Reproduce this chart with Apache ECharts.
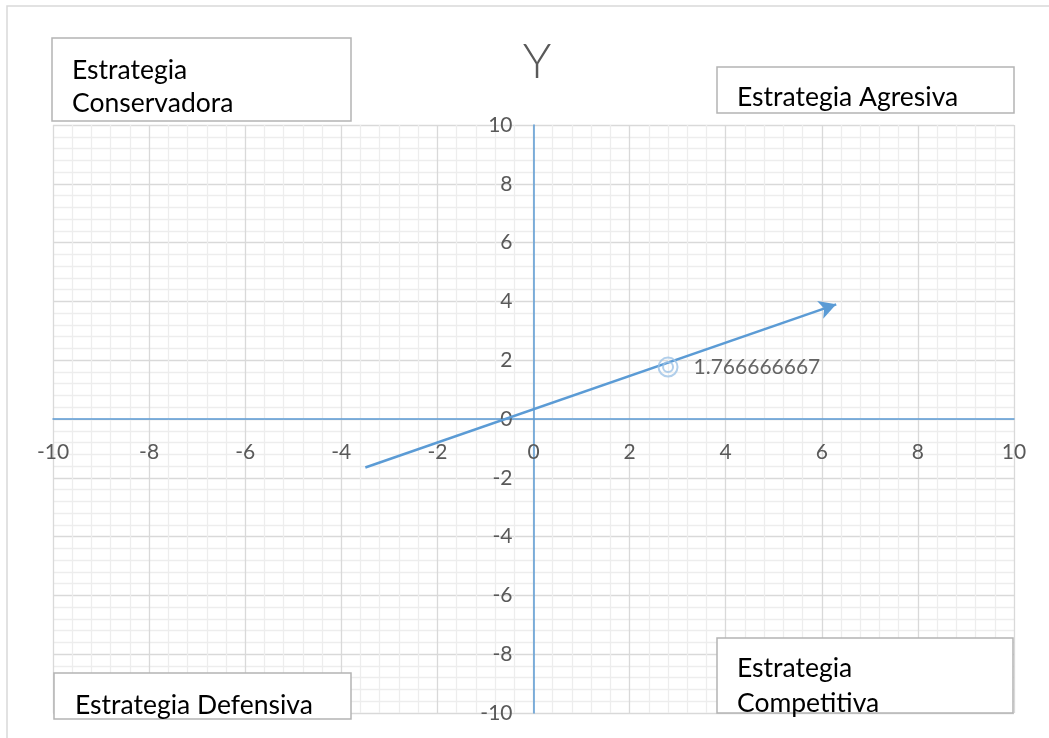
<!DOCTYPE html>
<html>
<head>
<meta charset="utf-8">
<script src="https://cdn.jsdelivr.net/npm/echarts@6/dist/echarts.min.js"></script>
<style>
  html, body { margin: 0; padding: 0; background: #ffffff; }
  #chart { width: 1049px; height: 738px; }
</style>
</head>
<body>
<div id="chart"></div>
<script>
// Strategy vector (start -> arrow tip) and the marked point on it
const vectorX = [-3.5, 6.3];
const vectorY = [-1.65, 3.9];
const pointX = [2.8];
const pointY = [1.766666667];

// Axis range and tick step
const axisMin = -10;
const axisMax = 10;
const axisStep = 2;

const chartTitle = 'Y';
const quadrantConservadora = ['Estrategia', 'Conservadora'];
const quadrantAgresiva = ['Estrategia Agresiva'];
const quadrantCompetitiva = ['Estrategia', 'Competitiva'];
const quadrantDefensiva = ['Estrategia Defensiva'];

const FONT = 'Lato, "Open Sans", sans-serif';
const AXIS_BLUE = '#5b9bd5';

// Plot rectangle
const W = 1049, H = 738;
const G = { left: 53, right: 35, top: 125, bottom: 25 };
const plotW = W - G.left - G.right;
const plotH = H - G.top - G.bottom;

function box(x, y, w, h, lines, tx, ty, lh) {
  const children = [{
    type: 'rect',
    shape: { x: x, y: y, width: w, height: h },
    style: { fill: '#ffffff', stroke: '#b4b4b4', lineWidth: 1.5 },
    z: 100
  }];
  lines.forEach(function (t, i) {
    children.push({
      type: 'text',
      x: tx, y: ty + i * lh,
      style: {
        text: t, fill: '#000000', fontSize: 26.5, fontFamily: FONT,
        textAlign: 'left', textVerticalAlign: 'middle'
      },
      z: 101
    });
  });
  return { type: 'group', children: children, z: 100 };
}

const chart = echarts.init(document.getElementById('chart'));

const axisCommon = {
  type: 'value',
  min: axisMin,
  max: axisMax,
  interval: axisStep,
  axisLine: { show: true, onZero: false, lineStyle: { color: AXIS_BLUE, width: 1.5 } },
  axisTick: { show: false },
  minorTick: { show: false, splitNumber: 5 },
  splitLine: { show: true, lineStyle: { color: '#d9d9d9', width: 1.3 } },
  minorSplitLine: { show: true, lineStyle: { color: '#ededed', width: 1.3 } },
  axisLabel: { color: '#595959', fontSize: 21, fontFamily: FONT }
};

const points = pointX.map(function (x, i) { return [x, pointY[i]]; });

chart.setOption({
  animation: false,
  backgroundColor: '#ffffff',
  grid: { left: G.left, right: G.right, top: G.top, bottom: G.bottom, containLabel: false },
  title: {
    text: chartTitle,
    left: 532, top: 58,
    textAlign: 'center', textVerticalAlign: 'middle',
    textStyle: { color: '#595959', fontSize: 48, fontWeight: 300, fontFamily: FONT }
  },
  // axes drawn through the middle of the plot (zero crossing)
  xAxis: Object.assign({}, axisCommon, {
    position: 'bottom',
    offset: -plotH / 2,
    axisLabel: Object.assign({}, axisCommon.axisLabel, { margin: 23 })
  }),
  yAxis: Object.assign({}, axisCommon, {
    position: 'left',
    offset: -plotW / 2,
    axisLabel: Object.assign({}, axisCommon.axisLabel, { margin: 21 })
  }),
  series: [
    {
      type: 'line',
      data: [],
      markLine: {
        silent: true,
        symbol: ['none', 'arrow'],
        symbolSize: [14, 17],
        label: { show: false },
        lineStyle: { color: AXIS_BLUE, width: 2.5, type: 'solid' },
        data: [[
          { coord: [vectorX[0], vectorY[0]] },
          { coord: [vectorX[1], vectorY[1]] }
        ]]
      },
      z: 5
    },
    {
      type: 'scatter',
      data: points,
      symbol: 'circle',
      symbolSize: 19,
      itemStyle: { color: 'rgba(255,255,255,0)', borderColor: '#9dc3e6', borderWidth: 2 },
      label: {
        show: true,
        position: 'right',
        distance: 15,
        formatter: function (p) { return String(p.value[1]); },
        color: '#404040', fontSize: 21, fontFamily: FONT
      },
      z: 6
    },
    {
      type: 'scatter',
      data: points,
      symbol: 'circle',
      symbolSize: 10,
      itemStyle: { color: 'rgba(255,255,255,0)', borderColor: '#9dc3e6', borderWidth: 2 },
      z: 7
    }
  ],
  graphic: [
    {
      type: 'rect',
      shape: { x: 7, y: 6, width: 1100, height: 800 },
      style: { fill: 'none', stroke: '#d9d9d9', lineWidth: 1.5 },
      z: 90
    },
    box(52, 38, 299, 83, quadrantConservadora, 72, 70, 33),
    box(717, 67, 297, 46, quadrantAgresiva, 737, 97, 33),
    box(717, 638, 296, 75, quadrantCompetitiva, 737, 668, 35),
    box(54, 673, 297, 46, quadrantDefensiva, 75, 705, 33)
  ]
});
</script>
</body>
</html>
